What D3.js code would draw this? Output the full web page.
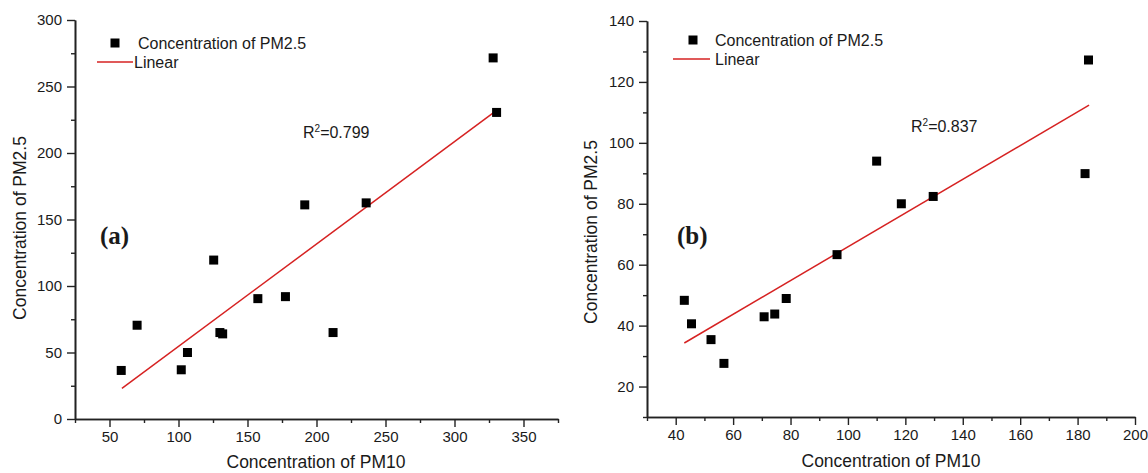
<!DOCTYPE html>
<html>
<head>
<meta charset="utf-8">
<script src="https://cdn.jsdelivr.net/npm/d3@7"></script>
<style>
  body { margin: 0; background: #fff; }
  text { font-family: "Liberation Sans", Arial, sans-serif; fill: #1a1a1a; }
</style>
</head>
<body>
<div id="chart"></div>
<script>
// panel (a)
const pm10A = [58.5, 70, 102, 106.5, 125.5, 130, 132, 157.5, 177.5, 191.5, 212, 236, 328, 330.5];
const pm25A = [36.5, 70.5, 37, 50, 119.5, 65, 64, 90.5, 92, 161, 65, 162.5, 271.5, 230.5];
const fitA = [[59, 23], [330.5, 232]];
const xTicksA = [50, 100, 150, 200, 250, 300, 350];
const xMinorA = [25, 75, 125, 175, 225, 275, 325, 375];
const yTicksA = [0, 50, 100, 150, 200, 250, 300];
const yMinorA = [25, 75, 125, 175, 225, 275];

// panel (b)
const pm10B = [43, 45.5, 52.3, 56.8, 70.8, 74.5, 78.5, 96.2, 110, 118.6, 129.7, 182.6, 183.8];
const pm25B = [48.3, 40.6, 35.4, 27.6, 42.9, 43.8, 48.9, 63.3, 94, 80, 82.4, 89.9, 127.2];
const fitB = [[43, 34.3], [184, 112.4]];
const xTicksB = [40, 60, 80, 100, 120, 140, 160, 180, 200];
const xMinorB = [30, 50, 70, 90, 110, 130, 150, 170, 190];
const yTicksB = [20, 40, 60, 80, 100, 120, 140];
const yMinorB = [10, 30, 50, 70, 90, 110, 130];

const W = 1148, H = 473;
const svg = d3.select('#chart').append('svg').attr('width', W).attr('height', H);

const panels = [
  {
    xs: pm10A, ys: pm25A, fit: fitA, label: '(a)', r2: '0.799',
    x: d3.scaleLinear().domain([25, 375]).range([75, 558]),
    y: d3.scaleLinear().domain([0, 300]).range([419, 20]),
    xt: xTicksA, xm: xMinorA, yt: yTicksA, ym: yMinorA,
    legX: 115, legY: 43, lineX: [97, 133], txtX: 138, linTxtX: 134,
    labelPos: [100, 244], r2Pos: [303, 138],
    yTitle: [20, 228], xTitle: [316, 468]
  },
  {
    xs: pm10B, ys: pm25B, fit: fitB, label: '(b)', r2: '0.837',
    x: d3.scaleLinear().domain([30, 200]).range([647, 1135]),
    y: d3.scaleLinear().domain([10, 140]).range([417, 21]),
    xt: xTicksB, xm: xMinorB, yt: yTicksB, ym: yMinorB,
    legX: 693, legY: 40, lineX: [673, 710], txtX: 715, linTxtX: 715,
    labelPos: [677, 244], r2Pos: [911, 132],
    yTitle: [591, 232], xTitle: [891, 467]
  }
];

panels.forEach(p => {
  const g = svg.append('g');
  const x0 = p.x.range()[0], y0 = p.y.range()[0];

  // axes: major ticks then minor ticks
  const styleAxis = sel => {
    sel.select('.domain').attr('stroke', '#222').attr('stroke-width', 1.6);
    sel.selectAll('.tick line').attr('stroke', '#222').attr('stroke-width', 1.4);
    sel.selectAll('.tick text').style('font-size', '15px')
      .style('font-family', '"Liberation Sans", Arial, sans-serif').attr('fill', '#1a1a1a');
  };

  g.append('g').attr('transform', `translate(0,${y0})`)
    .call(d3.axisBottom(p.x).tickValues(p.xm).tickSize(4).tickSizeOuter(0).tickFormat(''))
    .call(styleAxis);
  g.append('g').attr('transform', `translate(0,${y0})`)
    .call(d3.axisBottom(p.x).tickValues(p.xt).tickSize(8).tickSizeOuter(0).tickPadding(4))
    .call(styleAxis);
  g.append('g').attr('transform', `translate(${x0},0)`)
    .call(d3.axisLeft(p.y).tickValues(p.ym).tickSize(4).tickSizeOuter(0).tickFormat(''))
    .call(styleAxis);
  g.append('g').attr('transform', `translate(${x0},0)`)
    .call(d3.axisLeft(p.y).tickValues(p.yt).tickSize(8).tickSizeOuter(0).tickPadding(5))
    .call(styleAxis);

  // fitted line
  g.append('line')
    .attr('x1', p.x(p.fit[0][0])).attr('y1', p.y(p.fit[0][1]))
    .attr('x2', p.x(p.fit[1][0])).attr('y2', p.y(p.fit[1][1]))
    .attr('stroke', '#d62222').attr('stroke-width', 1.5);

  // points
  const sz = 9;
  g.selectAll('rect.pt').data(p.xs).enter().append('rect')
    .attr('class', 'pt')
    .attr('x', (d, i) => p.x(d) - sz / 2)
    .attr('y', (d, i) => p.y(p.ys[i]) - sz / 2)
    .attr('width', sz).attr('height', sz)
    .attr('fill', '#000');

  // legend
  g.append('rect').attr('x', p.legX - 4.5).attr('y', p.legY - 4.5)
    .attr('width', 9).attr('height', 9).attr('fill', '#000');
  g.append('text').attr('x', p.txtX).attr('y', p.legY + 6)
    .style('font-size', '16px').text('Concentration of PM2.5');
  g.append('line').attr('x1', p.lineX[0]).attr('x2', p.lineX[1])
    .attr('y1', p.legY + 19).attr('y2', p.legY + 19)
    .attr('stroke', '#d62222').attr('stroke-width', 1.5);
  g.append('text').attr('x', p.linTxtX).attr('y', p.legY + 25)
    .style('font-size', '16px').text('Linear');

  // R² annotation
  const r2 = g.append('text').attr('x', p.r2Pos[0]).attr('y', p.r2Pos[1])
    .style('font-size', '16px');
  r2.append('tspan').text('R');
  r2.append('tspan').attr('dy', -6).style('font-size', '10px').text('2');
  r2.append('tspan').attr('dy', 6).text('=' + p.r2);

  // panel label
  g.append('text').attr('x', p.labelPos[0]).attr('y', p.labelPos[1])
    .style('font-family', '"Liberation Serif", "Times New Roman", serif')
    .style('font-weight', 'bold').style('font-size', '25px')
    .text(p.label);

  // axis titles
  g.append('text').attr('x', p.xTitle[0]).attr('y', p.xTitle[1])
    .attr('text-anchor', 'middle').style('font-size', '17.5px')
    .text('Concentration of PM10');
  g.append('text')
    .attr('transform', `translate(${p.yTitle[0] + 6},${p.yTitle[1]}) rotate(-90)`)
    .attr('text-anchor', 'middle').style('font-size', '17.5px')
    .text('Concentration of PM2.5');
});
</script>
</body>
</html>
